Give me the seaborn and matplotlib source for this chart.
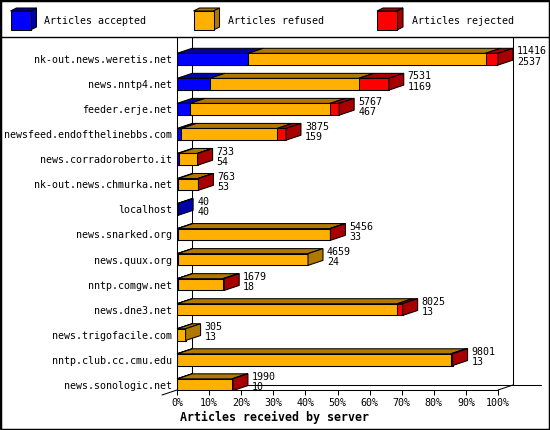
import numpy as np
import pandas as pd
import matplotlib
matplotlib.use("Agg")
import matplotlib.pyplot as plt
import seaborn as sns
from matplotlib.patches import Polygon, Rectangle
from matplotlib.lines import Line2D

# ---------------- data ----------------
servers = [
    "nk-out.news.weretis.net", "news.nntp4.net", "feeder.erje.net",
    "newsfeed.endofthelinebbs.com", "news.corradoroberto.it",
    "nk-out.news.chmurka.net", "localhost", "news.snarked.org",
    "news.quux.org", "nntp.comgw.net", "news.dne3.net",
    "news.trigofacile.com", "nntp.club.cc.cmu.edu", "news.sonologic.net",
]
total = [11416, 7531, 5767, 3875, 733, 763, 40, 5456, 4659, 1679, 8025, 305, 9801, 1990]
accepted = [2537, 1169, 467, 159, 54, 53, 40, 33, 24, 18, 13, 13, 13, 10]
rejected = [440, 1067, 320, 310, 15, 20, 0, 20, 0, 50, 190, 0, 60, 30]
refused = [t - a - r for t, a, r in zip(total, accepted, rejected)]

tick_values = list(range(0, 101, 10))
tick_labels = [f"{v}%" for v in tick_values]
legend_labels = ["Articles accepted", "Articles refused", "Articles rejected"]
x_title = "Articles received by server"

# ---------------- style ----------------
BLUE, BLUE_D = "#0000FF", "#0000A8"
ORANGE, ORANGE_D = "#FFB000", "#B07800"
RED, RED_D = "#FF0000", "#A80000"
LW = 0.75
W, H = 550, 430

sns.set_theme(style="white")
plt.rcParams["font.family"] = ["DejaVu Sans Mono", "DejaVu Sans"]

fig = plt.figure(figsize=(W / 100, H / 100), dpi=100)
fig.patch.set_facecolor("white")

AX_L, AX_R, AX_T, AX_B = 177, 498, 37, 390
ax = fig.add_axes([AX_L / W, 1 - AX_B / H, (AX_R - AX_L) / W, (AX_B - AX_T) / H])
ax.set_facecolor("none")

n = len(servers)
mx = max(total)
pct = lambda v: np.asarray(v, float) / mx * 100.0
p_tot = pct(total)
p_ar = pct([a + r for a, r in zip(accepted, refused)])
p_a = pct(accepted)

df = pd.DataFrame({"server": servers, "tot": p_tot, "ar": p_ar, "a": p_a})
BAR_H = 0.47
for col, c in (("tot", RED), ("ar", ORANGE), ("a", BLUE)):
    sns.barplot(data=df, x=col, y="server", orient="h", color=c, saturation=1,
                width=BAR_H, edgecolor="black", linewidth=LW, ax=ax, zorder=2)

PX_X = (AX_R - AX_L) / 100.0   # px per percent
PX_Y = 25.04                   # px per row
DX = 15 / PX_X
DY = 5 / PX_Y
Y_TOP = (AX_T - 59.2) / PX_Y
Y_BOT = 13 + (AX_B - 384.7) / PX_Y
ax.set_xlim(0, 100)
ax.set_ylim(Y_BOT, Y_TOP)

# 3D faces
for i in range(n):
    segs = [(0, p_a[i], BLUE_D), (p_a[i], p_ar[i], ORANGE_D), (p_ar[i], p_tot[i], RED_D)]
    segs = [s for s in segs if s[1] > s[0]]
    yt = i - BAR_H / 2
    yb = i + BAR_H / 2
    for x0, x1, c in segs:
        ax.add_patch(Polygon([(x0, yt), (x1, yt), (x1 + DX, yt - DY), (x0 + DX, yt - DY)],
                             closed=True, facecolor=c, edgecolor="black", lw=LW,
                             zorder=3, clip_on=False))
    if segs:
        xe, c = segs[-1][1], segs[-1][2]
        ax.add_patch(Polygon([(xe, yt), (xe, yb), (xe + DX, yb - DY), (xe + DX, yt - DY)],
                             closed=True, facecolor=c, edgecolor="black", lw=LW,
                             zorder=3, clip_on=False))
    tx = p_tot[i] + DX + 4 / PX_X
    ax.text(tx, i - 0.19, str(total[i]), fontsize=7.2, va="baseline", ha="left", color="black")
    ax.text(tx, i + 0.23, str(accepted[i]), fontsize=7.2, va="baseline", ha="left", color="black")

# back walls / floor lines
yfloor = Y_BOT - DY
for seg in [
    ([DX, DX], [Y_TOP, yfloor]),
    ([100 + DX, 100 + DX], [Y_TOP, yfloor]),
    ([DX, 100 + DX + 28 / PX_X], [yfloor, yfloor]),
    ([100, 100 + DX], [Y_BOT, yfloor]),
    ([0, -DX], [Y_BOT, Y_BOT + DY]),
]:
    ax.add_line(Line2D(seg[0], seg[1], color="black", lw=LW, zorder=0.5, clip_on=False))

# axes styling
for s in ("top", "right"):
    ax.spines[s].set_visible(False)
for s in ("left", "bottom"):
    ax.spines[s].set_color("black")
    ax.spines[s].set_linewidth(LW)
    ax.spines[s].set_zorder(4)
ax.grid(False)
ax.set_xlabel("")
ax.set_ylabel("")
ax.set_xticks(tick_values)
ax.set_xticklabels(tick_labels)
ax.set_yticks(range(n))
ax.set_yticklabels(servers)
ax.tick_params(axis="x", bottom=True, direction="out", length=3.6, width=LW,
               pad=2, labelsize=7.2, colors="black")
ax.tick_params(axis="y", left=False, length=0, pad=3.6, labelsize=7.2, colors="black")

# axis title
fig.text(180 / W, 1 - 417 / H, x_title, fontsize=8.4, fontweight="bold",
         ha="left", va="center", color="black")

# legend (3D cubes)
def fp(x, y):
    return (x / W, 1 - y / H)

for x0, tx, lab, c, cd in zip([10.5, 193.5, 377], [44, 228, 411.7], legend_labels,
                              [BLUE, ORANGE, RED], [BLUE_D, ORANGE_D, RED_D]):
    w, y0, y1, dx, dy = 20, 11, 30, 6, 3
    fig.patches.append(Polygon([fp(x0, y0), fp(x0 + w, y0), fp(x0 + w + dx, y0 - dy), fp(x0 + dx, y0 - dy)],
                               closed=True, facecolor=cd, edgecolor="black", lw=LW,
                               transform=fig.transFigure, figure=fig))
    fig.patches.append(Polygon([fp(x0 + w, y0), fp(x0 + w, y1), fp(x0 + w + dx, y1 - dy), fp(x0 + w + dx, y0 - dy)],
                               closed=True, facecolor=cd, edgecolor="black", lw=LW,
                               transform=fig.transFigure, figure=fig))
    fig.patches.append(Polygon([fp(x0, y0), fp(x0 + w, y0), fp(x0 + w, y1), fp(x0, y1)],
                               closed=True, facecolor=c, edgecolor="black", lw=LW,
                               transform=fig.transFigure, figure=fig))
    fig.text(*fp(tx, 21), lab, fontsize=7.2, ha="left", va="center", color="black")

# separator and border
fig.lines.append(Line2D([0, 1], [1 - 37 / H] * 2, color="black", lw=1.0,
                        transform=fig.transFigure, figure=fig))
fig.patches.append(Rectangle((0, 0), 1, 1, fill=False, edgecolor="black", lw=2.5,
                             transform=fig.transFigure, figure=fig))

fig.savefig("out.png", dpi=100)
